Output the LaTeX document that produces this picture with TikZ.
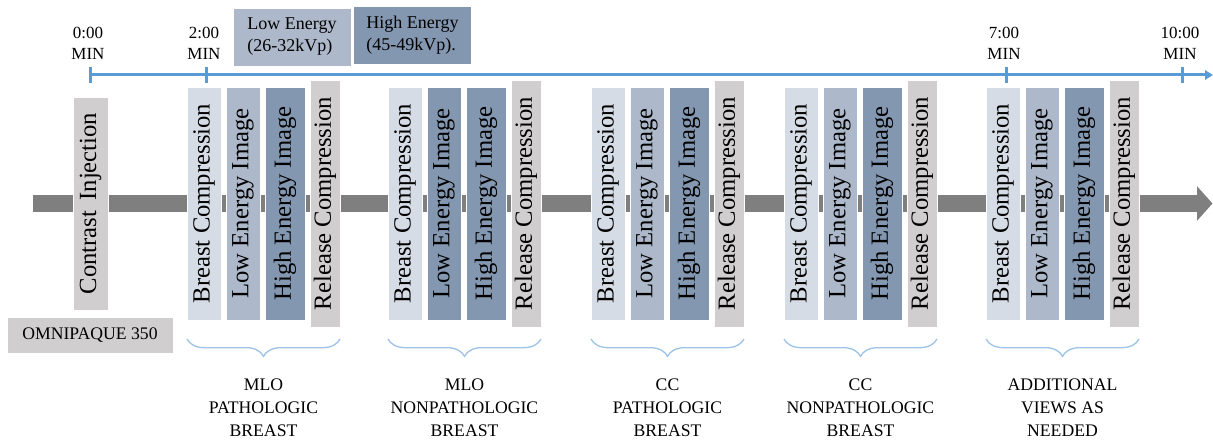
\documentclass[tikz,border=0pt]{standalone}
\usepackage{fontspec}
\setmainfont{Liberation Serif}
\usepackage{tikz}
\usetikzlibrary{arrows.meta,decorations.pathreplacing}

\definecolor{lightblue}{HTML}{D6DCE5}
\definecolor{midblue}{HTML}{ADB9CA}
\definecolor{darkblue}{HTML}{8497B0}
\definecolor{boxgray}{HTML}{D0CECE}
\definecolor{arrowgray}{HTML}{7F7F7F}
\definecolor{lineblue}{HTML}{5B9BD5}
\definecolor{bracecol}{HTML}{9DC3E6}

\newcommand\labfont{\fontsize{13.25}{17.25}\selectfont}
\newcommand\legfont{\fontsize{13.5}{16.5}\selectfont}
\newcommand\barfont{\fontsize{18.5}{22}\selectfont}

\tikzset{
    barstep/.style={rotate=90, inner sep=0pt, draw=white, line width=0.4pt,
        font=\barfont, minimum width=174.75pt, minimum height=#1},
    legbox/.style={draw=white, line width=0.6pt, align=left, inner sep=0pt,
        minimum width=88.5pt, minimum height=43.5pt, font=\legfont},
    grouplab/.style={align=center, font=\labfont},
}

\begin{document}
\begin{tikzpicture}[x=0.75pt,y=-0.75pt]
        \useasboundingbox (0,0) rectangle (1213,442);

        % 画出灰色的流程箭头
        \coordinate (ga0) at (33,203.5);
        \coordinate (ga1) at (1212.5,203.5);
        \draw[arrowgray, line width=12.5pt, -{Triangle[length=11.5pt,width=25pt]}] (ga0) -- (ga1);

        % 画出时间轴
        \coordinate (tl0) at (90,75);
        \coordinate (tl1) at (1213,75);
        \draw[lineblue, line width=2.25pt, -{Triangle[length=6pt,width=7pt]}] (tl0) -- (tl1);

        % 在时间轴上添加刻度和标签
        \foreach \x/\t in {90/{0:00},206/{2:00},1006/{7:00},1182/{10:00}} {
            \draw[lineblue, line width=2.25pt] (\x,67) -- (\x,83);
            \node[grouplab, font=\fontsize{12.75}{15.75}\selectfont] (tick\x) at (\x-2,43.5) {\t\\MIN};
        }

        % 能量说明
        \node[legbox, fill=midblue] (lowleg) at (292,37) {Low Energy\\(26-32kVp)};
        \node[legbox, fill=darkblue] (highleg) at (412.5,35.5) {High Energy\\(45-49kVp).};

        % 注射造影剂
        \node[barstep=26.25pt, minimum width=159.75pt, fill=boxgray] (inject) at (90.5,203.5) {Contrast\, Injection};
        \node[fill=boxgray, draw=white, line width=0.6pt, minimum width=124.5pt, minimum height=27pt, font=\labfont] (omni) at (90,335) {OMNIPAQUE 350};

        % 每个体位的四个步骤
        \foreach \i/\gx/\lc/\gtext in {1/187/midblue/{MLO\\PATHOLOGIC\\BREAST},
                2/388/darkblue/{MLO\\NONPATHOLOGIC\\BREAST},
                3/591/midblue/{CC\\PATHOLOGIC\\BREAST},
                4/784/midblue/{CC\\NONPATHOLOGIC\\BREAST},
                5/986/midblue/{ADDITIONAL\\VIEWS AS\\NEEDED}} {
            \node[barstep=25.5pt, fill=lightblue] (bc\i) at (\gx+17,203.5) {Breast Compression};
            \node[barstep=25.5pt, fill=\lc] (le\i) at (\gx+56,203.5) {Low Energy Image};
            \node[barstep=30pt, fill=darkblue] (he\i) at (\gx+98,203.5) {High Energy Image};
            \node[barstep=22.5pt, minimum width=185.25pt, fill=boxgray] (rc\i) at (\gx+138,203.5) {Release Compression};

            \coordinate (bl\i) at (\gx,339);
            \coordinate (br\i) at (\gx+153,339);
            \draw[bracecol, line width=1pt, decorate, decoration={brace, mirror, amplitude=13pt}] (bl\i) -- (br\i);
            \node[grouplab] (lab\i) at (\gx+76.5,408) {\gtext};
        }

\end{tikzpicture}
\end{document}
